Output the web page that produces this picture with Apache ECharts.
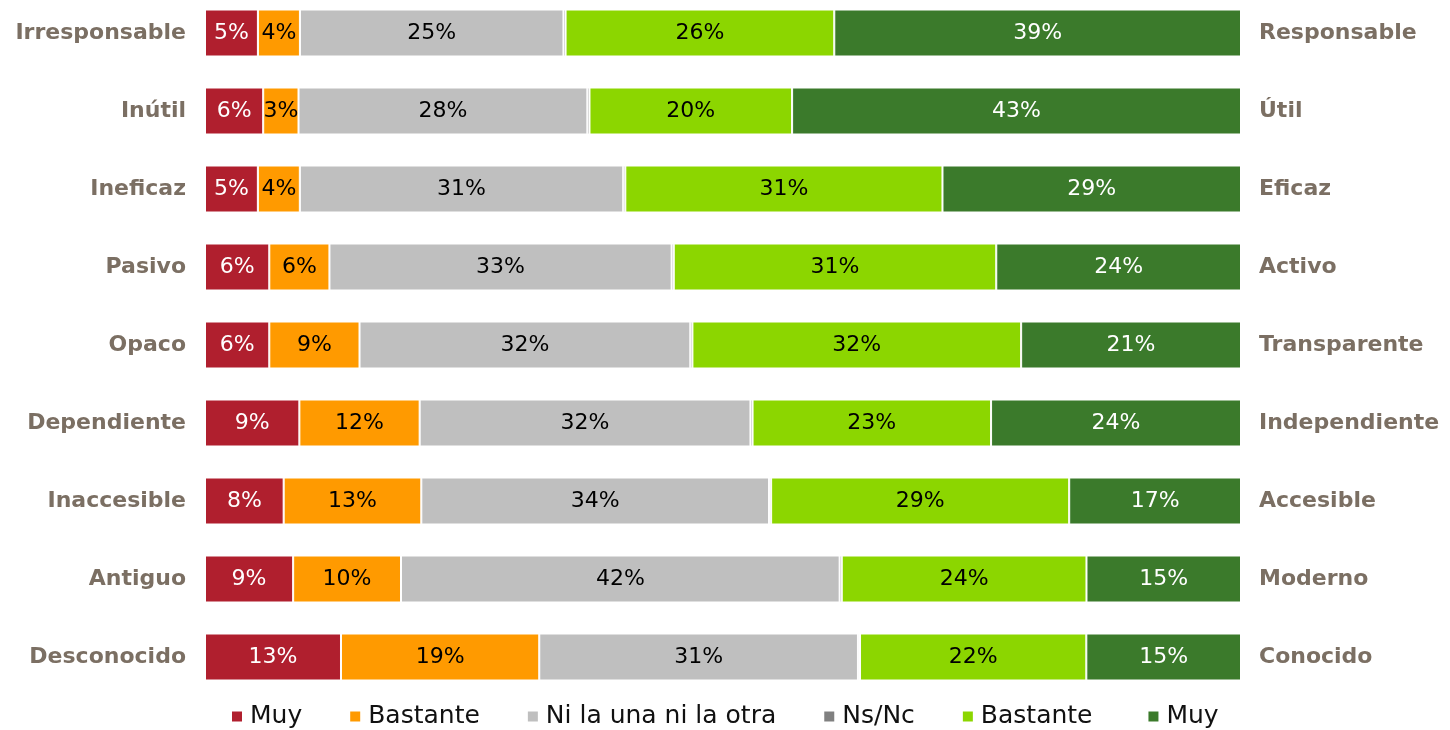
<!DOCTYPE html>
<html>
<head>
<meta charset="utf-8">
<script src="https://cdn.jsdelivr.net/npm/echarts@6/dist/echarts.min.js"></script>
<style>
  html, body { margin: 0; padding: 0; background: #fff; overflow: hidden; }
  #main { position: absolute; left: 0; top: -6px; width: 1450px; height: 736px; }
</style>
</head>
<body>
<div id="main"></div>
<script>
// categorias (izquierda / derecha)
const leftLabels = ['Irresponsable', 'Inútil', 'Ineficaz', 'Pasivo', 'Opaco', 'Dependiente', 'Inaccesible', 'Antiguo', 'Desconocido'];
const rightLabels = ['Responsable', 'Útil', 'Eficaz', 'Activo', 'Transparente', 'Independiente', 'Accesible', 'Moderno', 'Conocido'];

// valores (%)
const muyNeg      = [5.1, 5.6, 5.1, 6.2, 6.2, 9.1, 7.6, 8.5, 13.1];
const bastanteNeg = [4.05, 3.4, 4.05, 5.8, 8.7, 11.6, 13.3, 10.4, 19.1];
const niNi        = [25.4, 27.8, 31.2, 33.0, 31.9, 31.9, 33.6, 42.3, 30.7];
const nsnc        = [0.2, 0.2, 0.2, 0.2, 0.2, 0.2, 0.2, 0.2, 0.2];
const bastantePos = [25.9, 19.5, 30.6, 31.1, 31.7, 23.0, 28.8, 23.6, 21.8];
const muyPos      = [39.2, 43.2, 28.8, 23.6, 21.2, 24.1, 16.6, 14.9, 14.9];

// nombres repetidos en la leyenda: el espacio final los hace distintos
const seriesNames = ['Muy', 'Bastante', 'Ni la una ni la otra', 'Ns/Nc', 'Bastante ', 'Muy '];
const seriesData = [muyNeg, bastanteNeg, niNi, nsnc, bastantePos, muyPos];
const colors = ['#B01F2E', '#FF9A00', '#BFBFBF', '#808080', '#8CD600', '#3B7A2B'];
const labelColors = ['#ffffff', '#000000', '#000000', '#000000', '#000000', '#ffffff'];

// normalizar cada fila a 100 (barra 100% apilada)
const rowSums = leftLabels.map((_, i) => seriesData.reduce((s, arr) => s + arr[i], 0));

const chart = echarts.init(document.getElementById('main'));

chart.setOption({
  animation: false,
  grid: {
    left: 205,
    right: 209,
    top: 0,
    height: 702
  },
  legend: {
    bottom: 1,
    left: 230,
    padding: 0,
    itemWidth: 12,
    itemHeight: 12,
    itemGap: 46,
    icon: 'rect',
    textStyle: { fontFamily: 'DejaVu Sans', fontSize: 25, color: '#111', padding: [0, 0, 0, 2] },
    data: seriesNames
  },
  xAxis: {
    type: 'value',
    min: 0,
    max: 100,
    show: false
  },
  yAxis: [
    {
      type: 'category',
      inverse: true,
      data: leftLabels,
      axisLine: { show: false },
      axisTick: { show: false },
      axisLabel: {
        margin: 19,
        fontFamily: 'DejaVu Sans',
        fontWeight: 'bold',
        fontSize: 22,
        color: '#7B6F63'
      }
    },
    {
      type: 'category',
      inverse: true,
      position: 'right',
      data: rightLabels,
      axisLine: { show: false },
      axisTick: { show: false },
      axisLabel: {
        margin: 18,
        fontFamily: 'DejaVu Sans',
        fontWeight: 'bold',
        fontSize: 22,
        color: '#7B6F63'
      }
    }
  ],
  series: seriesNames.map((name, k) => ({
    name: name,
    type: 'bar',
    stack: 'total',
    yAxisIndex: 0,
    barWidth: 47,
    itemStyle: {
      color: colors[k],
      borderColor: '#ffffff',
      borderWidth: 1
    },
    label: {
      show: k !== 3,
      position: 'inside',
      fontFamily: 'DejaVu Sans',
      fontSize: 22,
      color: labelColors[k],
      formatter: p => Math.round(seriesData[k][p.dataIndex]) + '%'
    },
    data: seriesData[k].map((v, i) => v / rowSums[i] * 100)
  }))
});
</script>
</body>
</html>
